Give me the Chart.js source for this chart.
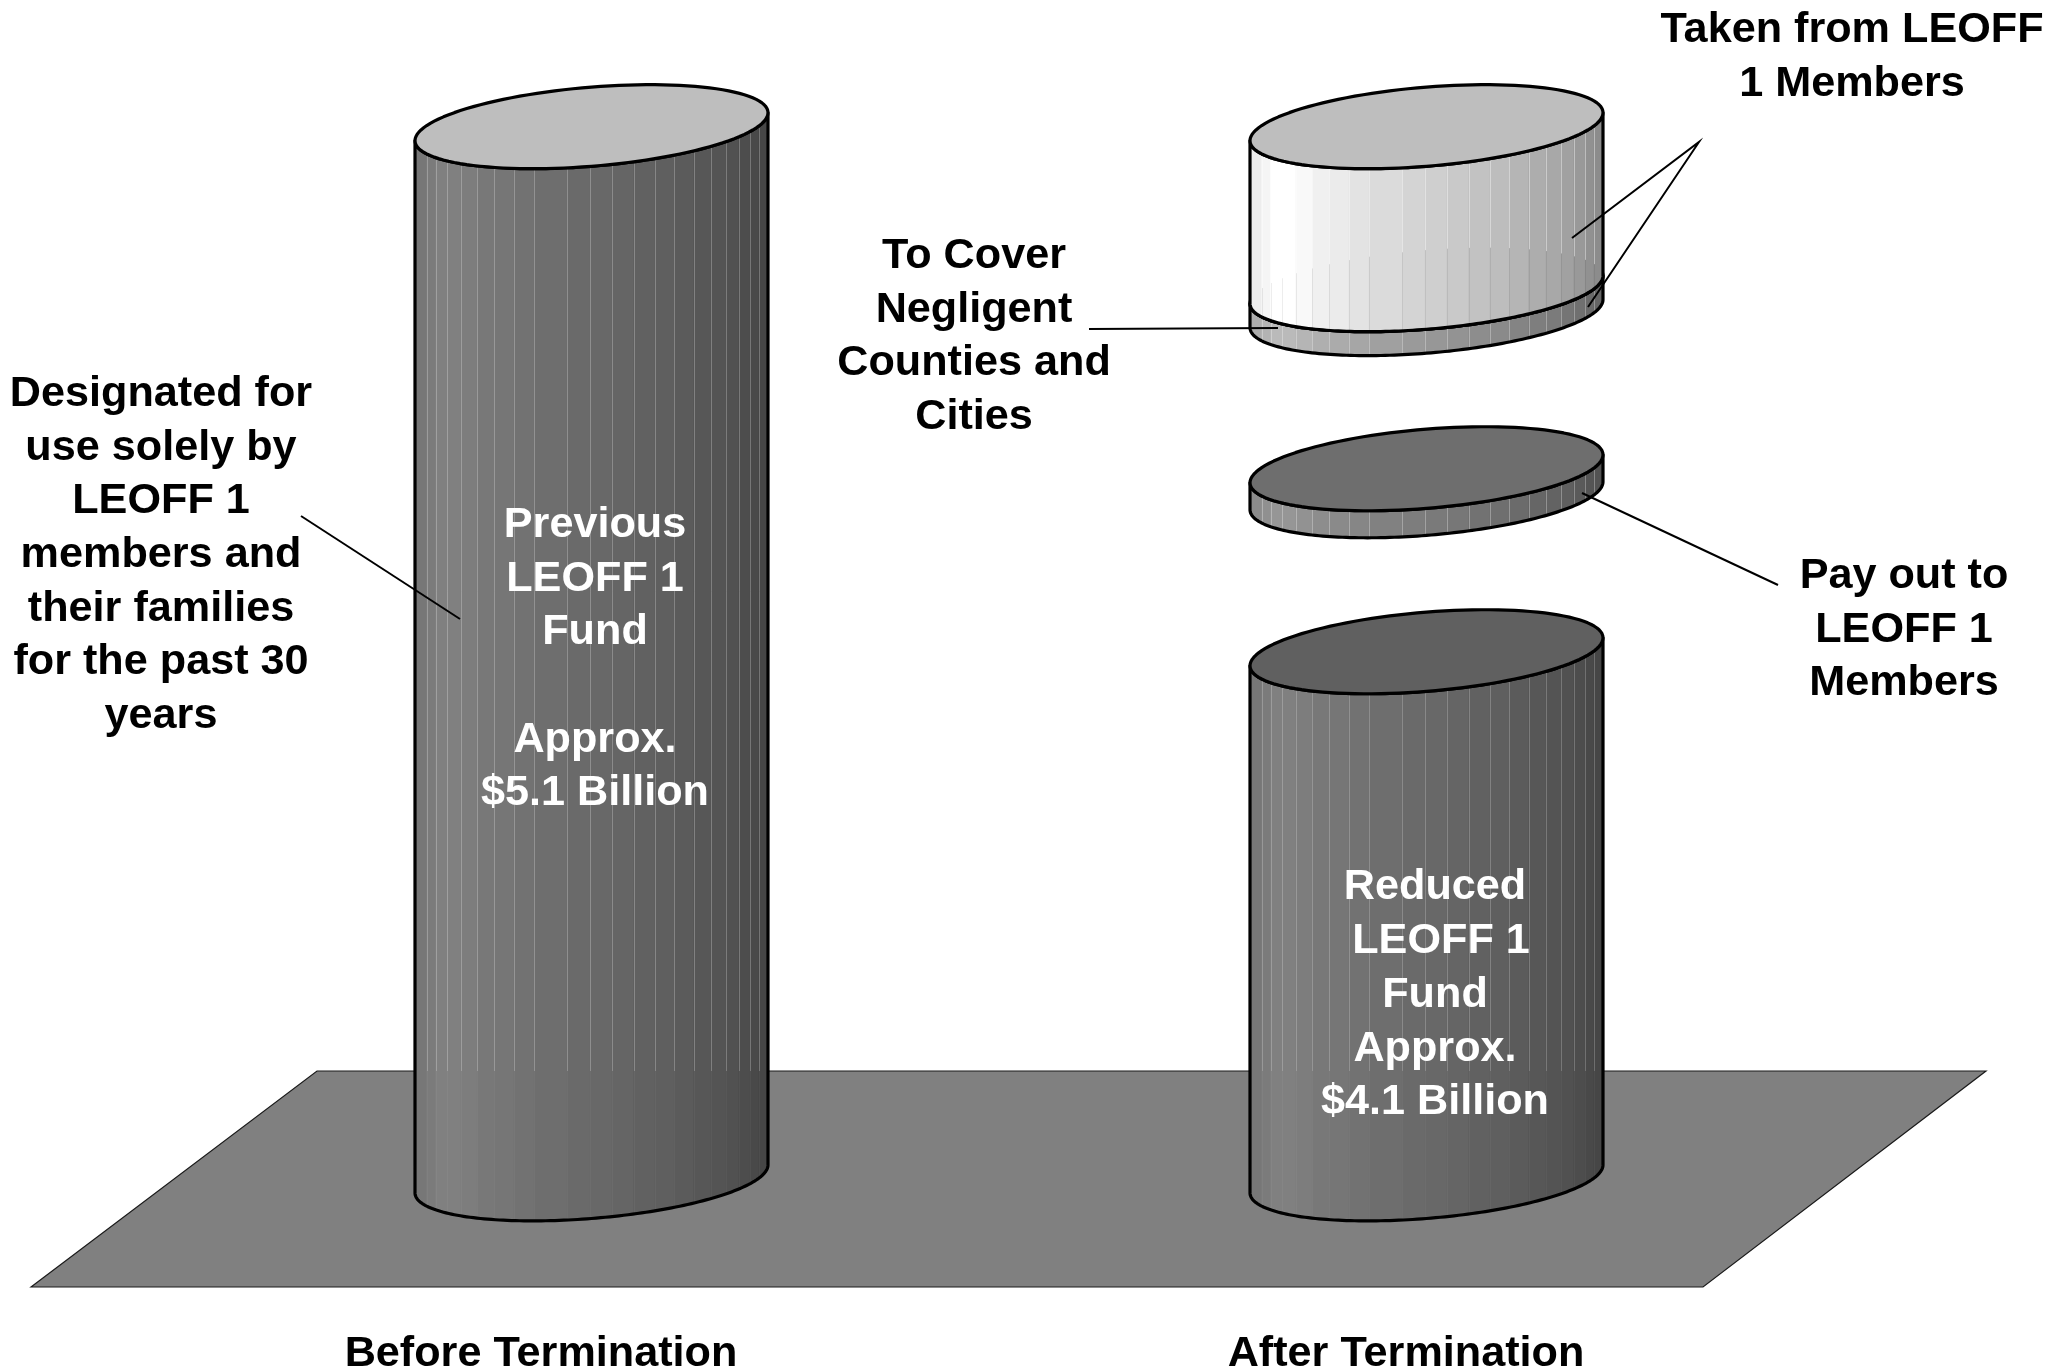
<!DOCTYPE html>
<html>
<head>
<meta charset="utf-8">
<style>
  html, body { margin: 0; padding: 0; background: #fff; }
  #wrap { width: 2049px; height: 1372px; }
</style>
<script src="https://cdn.jsdelivr.net/npm/chart.js@4/dist/chart.umd.min.js"></script>
</head>
<body>
<div id="wrap"><canvas id="myChart" width="2049" height="1372"></canvas></div>
<script>
const categories = ['Before Termination', 'After Termination'];

// heights, in billions on the first column's scale ($5.1B)
const fundRange = [[0, 5.1], [0, 2.555]];
const payoutRange = [null, [3.311, 3.442]];
const negligentRange = [null, [4.194, 4.31]];
const takenRange = [null, [4.31, 5.1]];

// page-unit positions for the floor, leader lines and captions
const floorX = [31, 317, 1986, 1703];
const floorY = [1287, 1071, 1071, 1287];
const categoryLabelX = [541, 1406];

const leaderDesignated = [{ x: 301, y: 516 }, { x: 460, y: 619 }];
const leaderNegligent = [{ x: 1089, y: 329 }, { x: 1278, y: 328 }];
const leaderTaken = [{ x: 1572, y: 238 }, { x: 1699, y: 142 }, { x: 1588, y: 307 }];
const leaderPayout = [{ x: 1582, y: 493 }, { x: 1778, y: 585 }];

const captions = [
  { x: 161, y: 394, color: '#000', lines: ['Designated for', 'use solely by', 'LEOFF 1', 'members and', 'their families', 'for the past 30', 'years'] },
  { x: 595, y: 525, color: '#fff', lines: ['Previous', 'LEOFF 1', 'Fund', '', 'Approx.', '$5.1 Billion'] },
  { x: 974, y: 256, color: '#000', lines: ['To Cover', 'Negligent', 'Counties and', 'Cities'] },
  { x: 1852, y: 30.5, color: '#000', lines: ['Taken from LEOFF', '1 Members'] },
  { x: 1904, y: 576, color: '#000', lines: ['Pay out to', 'LEOFF 1', 'Members'] },
  { x: 1435, y: 887.5, color: '#fff', lines: ['Reduced', ' LEOFF 1', 'Fund', 'Approx.', '$4.1 Billion'] },
];

const FONT = '"Liberation Sans", Arial, sans-serif';
const FONT_SIZE = 43.2;
const LINE_HEIGHT = 53.7;

// facet edges across a cylinder (fraction of width) and brightness of each facet
const facetEdges = [0, .033, .059, .092, .13, .177, .225, .281, .338, .432, .496, .558, .619, .679, .735, .789, .838, .882, .917, .95, .974, 1];
const facetShade = [.93, .96, 1, 1, .975, .94, .92, .89, .86, .83, .81, .79, .76, .74, .71, .68, .66, .63, .6, .57, .55];

const FLOOR_TOP = 1071;

function gray(v) {
  const c = Math.round(Math.min(255, v));
  return `rgb(${c},${c},${c})`;
}

// lid of a cylinder: an ellipse sheared so the left end sits lower than the right
function ellipsePoint(cx, cy, a, t) {
  const b = a * 0.2244;
  const s = a * 0.0793;
  return { x: cx + a * Math.cos(t), y: cy - s * Math.cos(t) + b * Math.sin(t) };
}

function backEdgeY(cx, cy, a, x) {
  const c = (x - cx) / a;
  return cy - a * 0.0793 * c - a * 0.2244 * Math.sqrt(Math.max(0, 1 - c * c));
}

function frontEdgeY(cx, cy, a, x) {
  const c = (x - cx) / a;
  return cy - a * 0.0793 * c + a * 0.2244 * Math.sqrt(Math.max(0, 1 - c * c));
}

function tracePath(ctx, pts) {
  pts.forEach((p, i) => (i ? ctx.lineTo(p.x, p.y) : ctx.moveTo(p.x, p.y)));
}

function arcPoints(cx, cy, a, from, to) {
  const pts = [];
  for (let i = 0; i <= 120; i++) {
    pts.push(ellipsePoint(cx, cy, a, from + (to - from) * i / 120));
  }
  return pts;
}

function drawCylinder(ctx, el, look, yp) {
  const cx = el.x;
  const a = el.width / 2;
  const top = el.y;
  const bottom = el.base;
  const left = cx - a;

  // side wall: front half of base, then front half of lid going back
  const wall = [...arcPoints(cx, bottom, a, Math.PI, 0), ...arcPoints(cx, top, a, 0, Math.PI)];

  ctx.save();
  ctx.beginPath();
  tracePath(ctx, wall);
  ctx.closePath();
  ctx.clip();

  facetShade.forEach((shade, i) => {
    const x1 = left + facetEdges[i] * el.width;
    const x2 = left + facetEdges[i + 1] * el.width;
    ctx.fillStyle = gray(look.peak * shade);
    ctx.fillRect(x1 - 0.5, top - 60, x2 - x1 + 1, bottom - top + 120);
  });

  // thin facet seams, they change where something sits behind the body
  ctx.lineWidth = 1;
  facetEdges.slice(1, -1).forEach((f) => {
    const x = Math.round(left + f * el.width) + 0.5;
    let split = top - 60;
    if (look.seamSplit === 'floor') split = yp.getPixelForValue(FLOOR_TOP);
    if (look.seamSplit === 'base') split = backEdgeY(cx, bottom, a, x);
    ctx.strokeStyle = look.seamUpper;
    ctx.beginPath();
    ctx.moveTo(x, top - 60);
    ctx.lineTo(x, split);
    ctx.stroke();
    ctx.strokeStyle = look.seamLower;
    ctx.beginPath();
    ctx.moveTo(x, split);
    ctx.lineTo(x, frontEdgeY(cx, bottom, a, x));
    ctx.stroke();
  });
  ctx.restore();

  ctx.lineJoin = 'round';
  ctx.lineWidth = 3.2;
  ctx.strokeStyle = '#000';
  ctx.beginPath();
  tracePath(ctx, wall);
  ctx.closePath();
  ctx.stroke();

  ctx.beginPath();
  tracePath(ctx, arcPoints(cx, top, a, 0, Math.PI * 2));
  ctx.closePath();
  ctx.fillStyle = look.lid;
  ctx.fill();
  ctx.stroke();
}

const cylinderPlugin = {
  id: 'cylinders',
  beforeDatasetDraw(chart, args) {
    const { meta } = args;
    if (meta.type !== 'bar') return;
    const ds = chart.data.datasets[args.index];
    const yp = chart.scales.yp;
    meta.data.forEach((el, i) => {
      if (el.skip) return;
      const looks = ds.looks[i];
      if (looks) drawCylinder(chart.ctx, el, looks, yp);
    });
    return false;
  },
};

const floorPlugin = {
  id: 'floor',
  beforeDatasetsDraw(chart) {
    const { ctx, scales } = chart;
    ctx.save();
    ctx.beginPath();
    floorX.forEach((v, i) => {
      const x = scales.xp.getPixelForValue(v);
      const y = scales.yp.getPixelForValue(floorY[i]);
      if (i) ctx.lineTo(x, y); else ctx.moveTo(x, y);
    });
    ctx.closePath();
    ctx.fillStyle = '#808080';
    ctx.fill();
    ctx.lineWidth = 1.2;
    ctx.strokeStyle = '#1a1a1a';
    ctx.stroke();
    ctx.restore();
  },
};

const captionPlugin = {
  id: 'captions',
  afterDraw(chart) {
    const { ctx, scales } = chart;
    ctx.save();
    ctx.font = `bold ${FONT_SIZE}px ${FONT}`;
    ctx.textAlign = 'center';
    ctx.textBaseline = 'middle';
    captions.forEach((c) => {
      ctx.fillStyle = c.color;
      c.lines.forEach((line, i) => {
        if (!line) return;
        ctx.fillText(line, scales.xp.getPixelForValue(c.x), scales.yp.getPixelForValue(c.y + i * LINE_HEIGHT));
      });
    });
    ctx.restore();
  },
};

function leader(points) {
  return {
    type: 'line',
    data: points,
    xAxisID: 'xp',
    yAxisID: 'yp',
    borderColor: '#000',
    borderWidth: 2,
    pointRadius: 0,
    tension: 0,
    fill: false,
    clip: false,
    order: 0,
    parsing: false,
  };
}

const darkBody = { peak: 128, lid: '#bebebe', seamSplit: 'floor', seamUpper: 'rgba(255,255,255,.25)', seamLower: 'rgba(255,255,255,.04)' };
const reducedBody = { peak: 128, lid: '#606060', seamSplit: 'floor', seamUpper: 'rgba(255,255,255,.22)', seamLower: 'rgba(255,255,255,.04)' };
const payoutBody = { peak: 150, lid: '#6e6e6e', seamSplit: null, seamUpper: 'rgba(255,255,255,.3)', seamLower: 'rgba(255,255,255,.3)' };
const negligentBody = { peak: 186, lid: '#bebebe', seamSplit: null, seamUpper: 'rgba(255,255,255,.3)', seamLower: 'rgba(255,255,255,.3)' };
const takenBody = { peak: 255, lid: '#bebebe', seamSplit: 'base', seamUpper: 'rgba(255,255,255,.4)', seamLower: 'rgba(0,0,0,.07)' };

function barSet(label, data, looks, order) {
  return { type: 'bar', label, data, looks, order, xAxisID: 'x', yAxisID: 'y', barThickness: 353, grouped: false };
}

new Chart(document.getElementById('myChart'), {
  data: {
    labels: categories,
    datasets: [
      leader(leaderDesignated),
      leader(leaderNegligent),
      leader(leaderTaken),
      leader(leaderPayout),
      barSet('Taken from LEOFF 1 Members', takenRange, [null, takenBody], 1),
      barSet('To Cover Negligent Counties and Cities', negligentRange, [null, negligentBody], 2),
      barSet('Pay out to LEOFF 1 Members', payoutRange, [null, payoutBody], 3),
      barSet('LEOFF 1 Fund', fundRange, [darkBody, reducedBody], 4),
    ],
  },
  options: {
    responsive: false,
    animation: false,
    layout: { padding: { left: 174, right: 205, top: 0, bottom: 0 } },
    plugins: { legend: { display: false }, tooltip: { enabled: false } },
    scales: {
      x: { type: 'category', display: false, offset: true },
      y: { type: 'linear', display: false, min: -0.524, max: 5.714 },
      // page-unit axes for the decoration; xp also carries the category captions
      xp: {
        type: 'linear',
        position: 'bottom',
        min: 174,
        max: 1844,
        grid: { display: false },
        border: { display: false },
        afterBuildTicks(axis) {
          axis.ticks = categoryLabelX.map((value) => ({ value }));
        },
        afterFit(axis) {
          axis.height = 85;
        },
        ticks: {
          autoSkip: false,
          maxRotation: 0,
          padding: 33,
          color: '#000',
          font: { family: FONT, size: FONT_SIZE, weight: 'bold' },
          callback: (value, index) => categories[index],
        },
      },
      yp: { type: 'linear', display: false, min: 0, max: 1287, reverse: true },
    },
  },
  plugins: [floorPlugin, cylinderPlugin, captionPlugin],
});
</script>
</body>
</html>
